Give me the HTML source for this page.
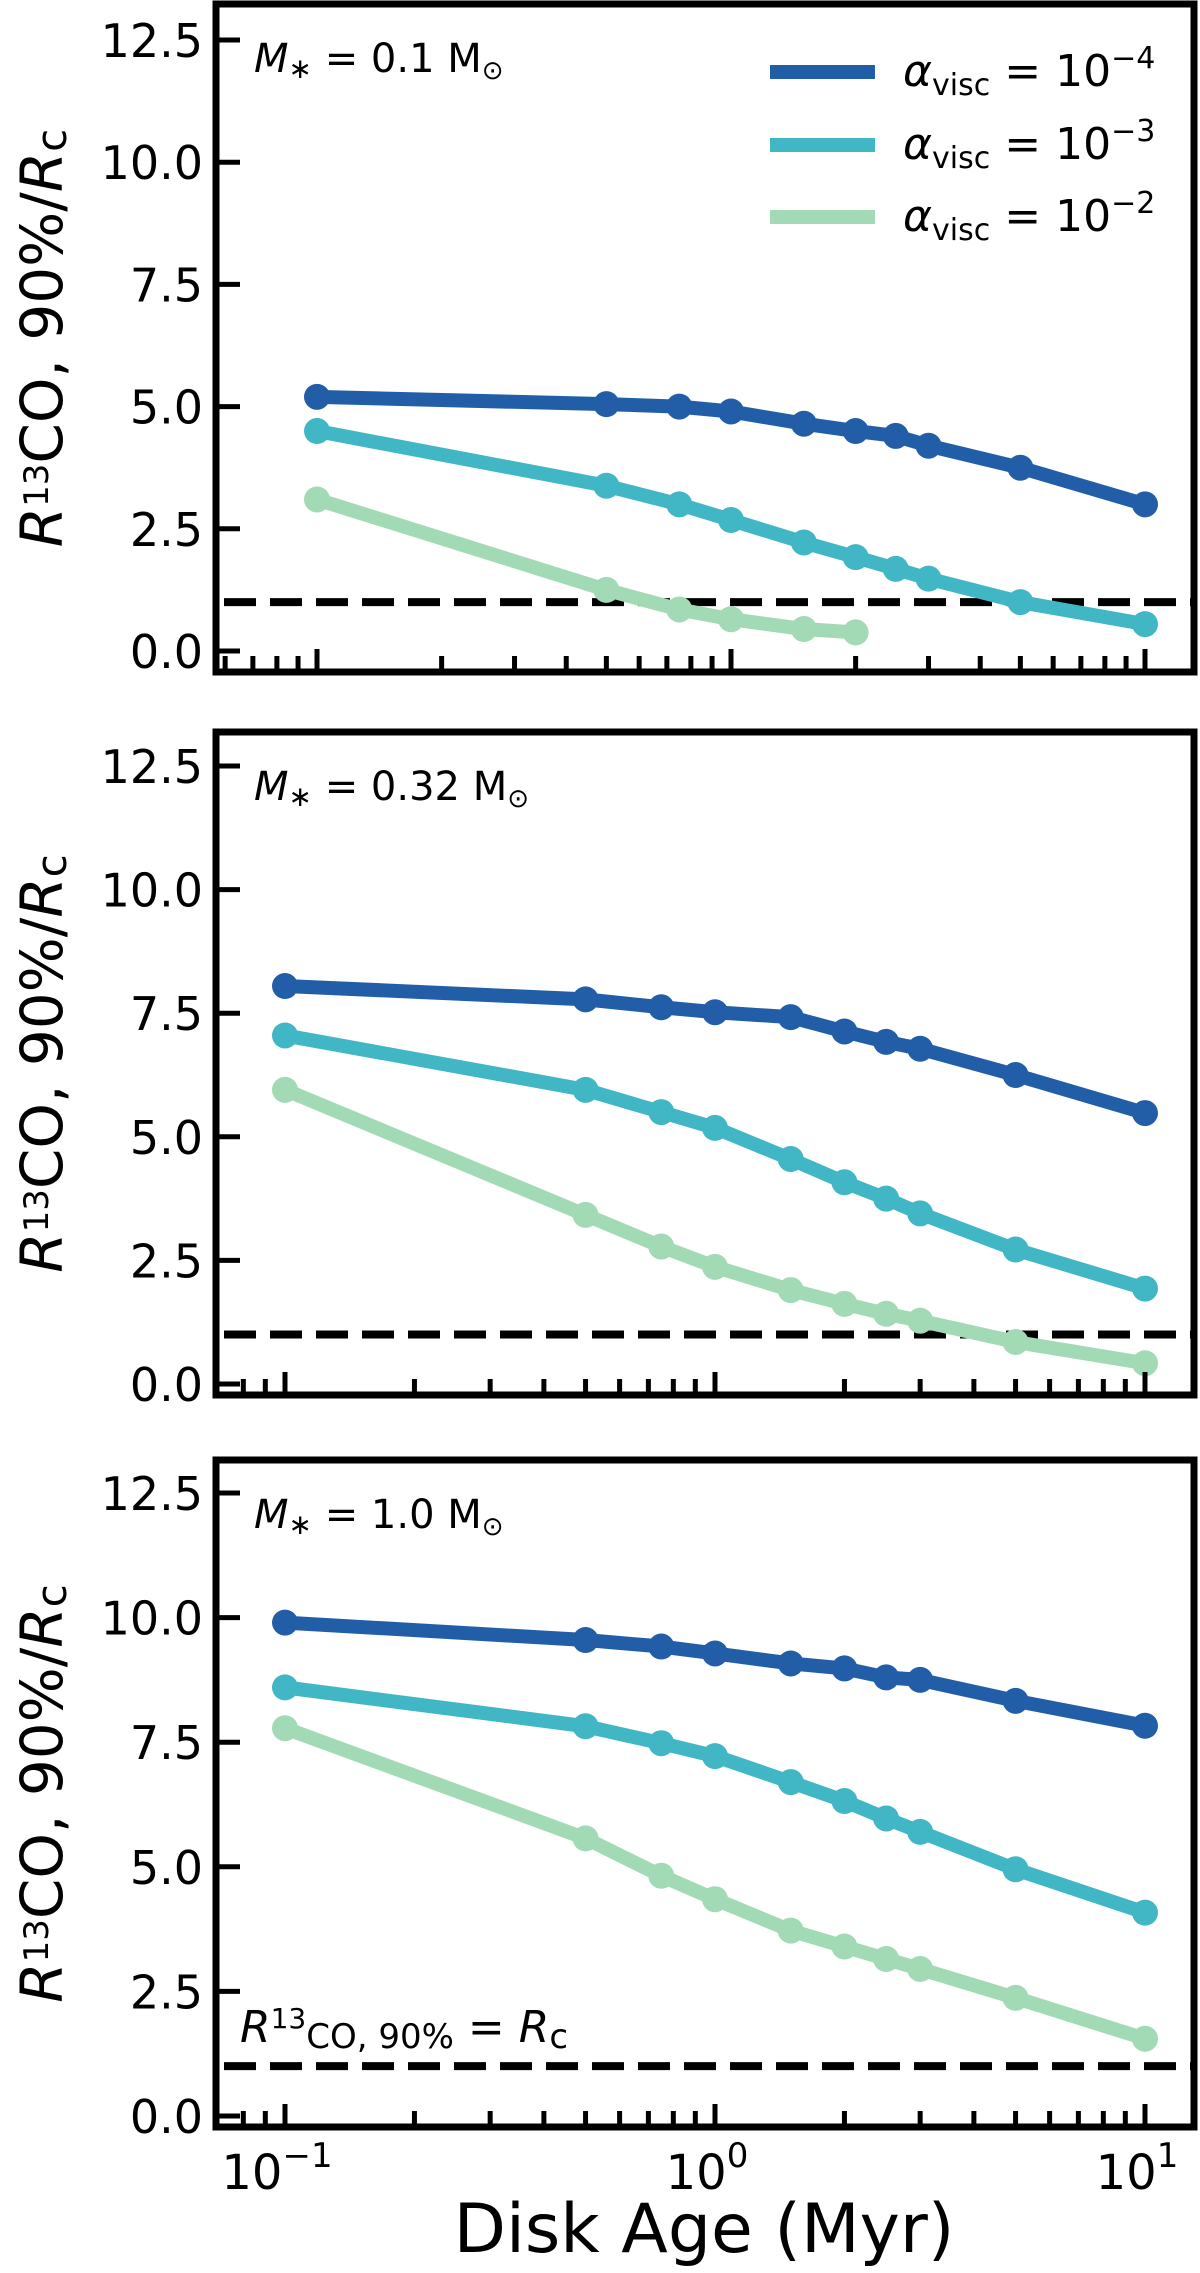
<!DOCTYPE html>
<html><head><meta charset="utf-8">
<style>
html,body{margin:0;padding:0;background:#fff;}
svg{display:block;font-family:"DejaVu Sans","Liberation Sans",sans-serif;}
</style></head>
<body>
<svg id="fig" width="1200" height="2273" viewBox="0 0 1200 2273" xmlns="http://www.w3.org/2000/svg"></svg>
<script>
const ages = [0.1, 0.5, 0.75, 1, 1.5, 2, 2.5, 3, 5, 10];
const p1Visc4 = [5.2, 5.05, 5.0, 4.9, 4.65, 4.5, 4.4, 4.2, 3.75, 3.0];
const p1Visc3 = [4.5, 3.38, 3.0, 2.68, 2.22, 1.92, 1.68, 1.48, 1.0, 0.55];
const p1Visc2 = [3.1, 1.25, 0.85, 0.65, 0.45, 0.38];
const p2Visc4 = [8.05, 7.78, 7.62, 7.52, 7.42, 7.13, 6.92, 6.78, 6.25, 5.48];
const p2Visc3 = [7.05, 5.95, 5.5, 5.18, 4.55, 4.08, 3.75, 3.45, 2.72, 1.93];
const p2Visc2 = [5.95, 3.42, 2.78, 2.37, 1.9, 1.62, 1.42, 1.28, 0.85, 0.42];
const p3Visc4 = [9.9, 9.55, 9.42, 9.28, 9.08, 8.98, 8.8, 8.75, 8.33, 7.83];
const p3Visc3 = [8.6, 7.82, 7.48, 7.22, 6.7, 6.32, 5.97, 5.7, 4.95, 4.08];
const p3Visc2 = [7.78, 5.57, 4.82, 4.35, 3.72, 3.4, 3.15, 2.95, 2.37, 1.55];
const yTicks = [0, 2.5, 5, 7.5, 10, 12.5];
const yTickLabels = ["0.0", "2.5", "5.0", "7.5", "10.0", "12.5"];
const xMajor = [0.1, 1, 10];
const refLine = 1.0;
const massLabels = ["0.1", "0.32", "1.0"];
const legendExp = ["\u22124", "\u22123", "\u22122"];

const C = ["#225ea8", "#41b6c4", "#a1dab4"];
const NS = "http://www.w3.org/2000/svg";
const svg = document.getElementById('fig');
function el(tag, attrs, parent) {
  const e = document.createElementNS(NS, tag);
  for (const k in attrs) e.setAttribute(k, attrs[k]);
  (parent || svg).appendChild(e);
  return e;
}

const panels = [
  {top: 4, bot: 672, y0: 651, y125: 40, x01: 317, dec: 414, series: [p1Visc4, p1Visc3, p1Visc2], key: 'top'},
  {top: 732, bot: 1395, y0: 1384, y125: 766, x01: 285, dec: 430, series: [p2Visc4, p2Visc3, p2Visc2], key: 'middle'},
  {top: 1460, bot: 2127, y0: 2116, y125: 1493, x01: 285, dec: 430, series: [p3Visc4, p3Visc3, p3Visc2], key: 'bottom'}
];
const L = 216, R = 1194;

panels.forEach((p, pi) => {
  const g = el('g', {});
  
  
  const xs = v => p.x01 + (Math.log10(v) + 1) * p.dec;
  const ys = v => p.y0 - v * (p.y0 - p.y125) / 12.5;
  const clip = el('clipPath', {id: 'clip' + pi}, g);
  el('rect', {x: L, y: p.top, width: R - L, height: p.bot - p.top}, clip);

  const dl = el('line', {x1: L, x2: R, y1: ys(refLine), y2: ys(refLine), stroke: '#000', 'stroke-width': 8, 'stroke-dasharray': '32 14', 'stroke-dashoffset': -8}, g);
  
  

  const sg = el('g', {'clip-path': 'url(#clip' + pi + ')'}, g);
  p.series.forEach((vals, si) => {
    const pts = vals.map((v, i) => xs(ages[i]) + ',' + ys(v)).join(' ');
    const pl = el('polyline', {points: pts, fill: 'none', stroke: C[si], 'stroke-width': 14, 'stroke-linejoin': 'round'}, sg);
    
    
    vals.forEach((v, i) => {
      const c = el('circle', {cx: xs(ages[i]), cy: ys(v), r: 13, fill: C[si]}, sg);
      
      
    });
  });

  yTicks.forEach((t, i) => {
    el('line', {x1: L, x2: L + 24, y1: ys(t), y2: ys(t), stroke: '#000', 'stroke-width': 5}, g);
    const tx = el('text', {x: 203, y: ys(t) + 17, 'text-anchor': 'end', 'font-size': 46}, g);
    tx.textContent = yTickLabels[i];
    
    
  });
  for (let e = -2; e <= 1; e++) {
    for (let m = 1; m <= 9; m++) {
      const v = m * Math.pow(10, e);
      const x = xs(v);
      if (x < L + 4 || x > R - 4) continue;
      const len = m === 1 ? 23 : 16;
      el('line', {x1: x, x2: x, y1: p.bot, y2: p.bot - len, stroke: '#000', 'stroke-width': 5}, g);
    }
  }
  const fr = el('rect', {x: L, y: p.top, width: R - L, height: p.bot - p.top, fill: 'none', stroke: '#000', 'stroke-width': 7}, g);
  
  

  const yl = el('text', {x: 0, y: 0, 'font-size': 58, 'text-anchor': 'middle', transform: 'translate(62,' + ((p.top + p.bot) / 2) + ') rotate(-90)'}, g);
  yl.innerHTML = '<tspan font-style="italic">R</tspan><tspan font-size="34" dy="-14">13</tspan><tspan dy="14">CO, 90%/</tspan><tspan font-style="italic">R</tspan><tspan font-size="42" dy="4">c</tspan>';
  
  

  const ma = el('text', {x: 254, y: p.top + 68, 'font-size': 40}, g);
  ma.innerHTML = '<tspan font-style="italic">M</tspan><tspan font-size="28" dy="6">\u2217</tspan><tspan dy="-6"> = ' + massLabels[pi] + ' M</tspan><tspan font-size="26" dy="7">\u2299</tspan>';
  
  

  if (pi === 2) {
    xMajor.forEach((v, i) => {
      const t = el('text', {x: xs(v) - 8, y: p.bot + 62, 'text-anchor': 'middle', 'font-size': 48}, g);
      t.innerHTML = '10<tspan font-size="34" dy="-22">' + ['\u22121', '0', '1'][i] + '</tspan>';
      
      
    });
    const xl = el('text', {x: 704, y: 2252, 'text-anchor': 'middle', 'font-size': 68}, g);
    xl.textContent = 'Disk Age (Myr)';
    
    
    const rl = el('text', {x: 240, y: 2042, 'font-size': 44}, g);
    rl.innerHTML = '<tspan font-style="italic">R</tspan><tspan font-size="28" dy="-14">13</tspan><tspan font-size="34" dy="20">CO, 90%</tspan><tspan dy="-6"> = </tspan><tspan font-style="italic">R</tspan><tspan font-size="34" dy="6">c</tspan>';
    
    
  }
  if (pi === 0) {
    const lg = el('g', {}, g);
    
    
    [72, 145, 217].forEach((y, i) => {
      const ent = el('g', {}, lg);
      
      
      el('line', {x1: 770, x2: 875, y1: y, y2: y, stroke: C[i], 'stroke-width': 14}, ent);
      const t = el('text', {x: 903, y: y + 14, 'font-size': 44}, ent);
      t.innerHTML = '<tspan font-style="italic">\u03b1</tspan><tspan font-size="30" dy="9">visc</tspan><tspan dy="-9"> = 10</tspan><tspan font-size="30" dy="-18">' + legendExp[i] + '</tspan>';
    });
  }
});
</script>
</body></html>
